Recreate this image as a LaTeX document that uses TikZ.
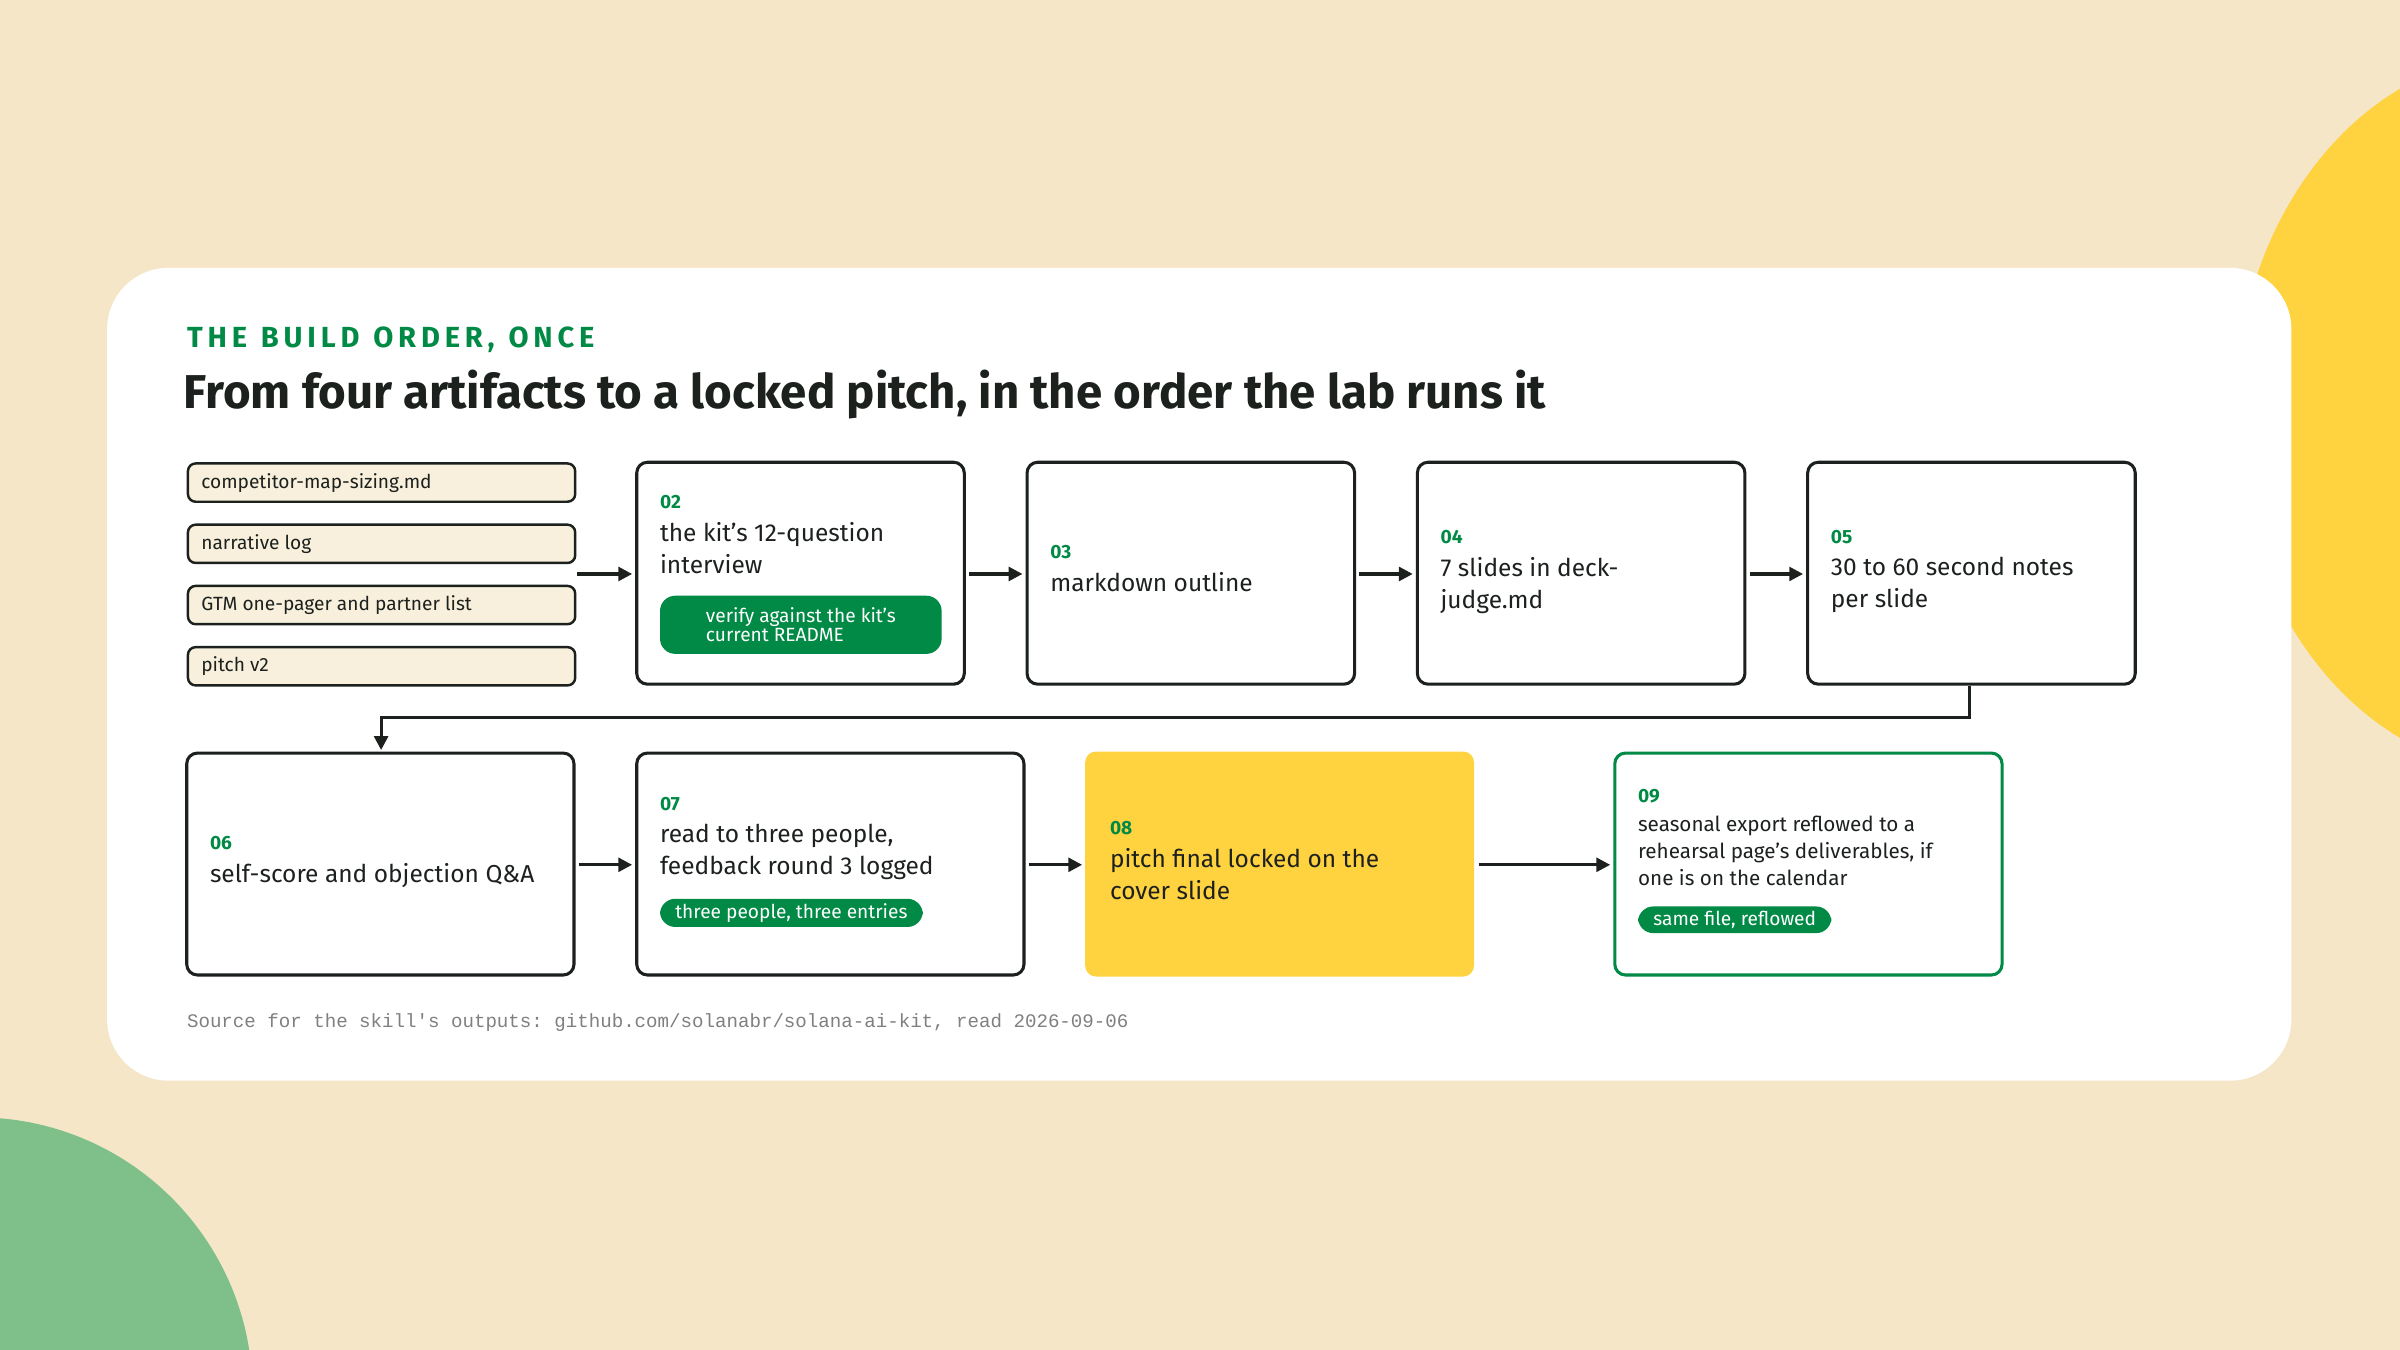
\documentclass[tikz,border=0pt]{standalone}
\usepackage{fontspec}
\setmainfont{Fira Sans}
\setmonofont{Liberation Mono}
\usetikzlibrary{arrows.meta,positioning}
\definecolor{paper}{HTML}{F5E6C8}
\definecolor{sun}{HTML}{FFD23F}
\definecolor{leaf}{HTML}{7FBF8A}
\definecolor{kitgreen}{HTML}{008A45}
\definecolor{ink}{HTML}{1C211E}
\definecolor{cream}{HTML}{F8F0DC}
\begin{document}
\begin{tikzpicture}[x=1pt, y=-1pt,
        stage/.style={draw=ink, line width=2pt, rounded corners=7pt, fill=white},
        artifact/.style={draw=ink, line width=1.6pt, rounded corners=5pt, fill=cream, minimum width=253pt, minimum height=25pt, anchor=north west},
        artlabel/.style={font=\fontsize{12.5}{14}\selectfont, text=ink, anchor=west},
        num/.style={font=\fontsize{12.5}{14}\selectfont\bfseries, text=kitgreen, anchor=west, inner sep=0pt},
        body/.style={font=\fontsize{16}{21}\selectfont, text=ink, anchor=north west, align=left, inner sep=0pt},
        pill/.style={fill=kitgreen, text=white, rounded corners=10pt, font=\fontsize{12.5}{14}\selectfont, align=left, anchor=north west, inner xsep=10pt, inner ysep=3pt},
        arrow/.style={-{Triangle[length=9pt,width=9pt]}, line width=2pt, draw=ink},
	]
		\useasboundingbox (0,0) rectangle (1568,882);
		\fill[paper] (0,0) rectangle (1568,882);
		\begin{scope}
			\clip (0,0) rectangle (1568,882);
			\fill[sun] (1650,270) ellipse (190 and 235);
			\fill[leaf] (-15,910) ellipse (180 and 180);
		\end{scope}
		\fill[white, rounded corners=40pt] (70,175) rectangle (1497,706);
		
		\node[anchor=west, inner sep=0pt, text=kitgreen, font=\fontsize{19}{22}\selectfont\bfseries] (kicker) at (122,222) {T\,H\,E\ \ B\,U\,I\,L\,D\ \ O\,R\,D\,E\,R\,,\ \ O\,N\,C\,E};
		\node[anchor=west, inner sep=0pt, text=ink, font=\fontsize{31}{36}\selectfont\bfseries] (title) at (120,258) {From four artifacts to a locked pitch, in the order the lab runs it};
		
		% inputs
		\node[artifact] (a1) at (122,302) {};
		\node[artifact] (a2) at (122,342) {};
		\node[artifact] (a3) at (122,382) {};
		\node[artifact] (a4) at (122,422) {};
		\node[artlabel] at ([xshift=6pt]a1.west) {competitor-map-sizing.md};
		\node[artlabel] at ([xshift=6pt]a2.west) {narrative log};
		\node[artlabel] at ([xshift=6pt]a3.west) {GTM one-pager and partner list};
		\node[artlabel] at ([xshift=6pt]a4.west) {pitch v2};
		\coordinate (inputs) at (377,375);
		
		% top row
		\draw[stage] (416,302) rectangle (630,447);
		\draw[stage] (671,302) rectangle (885,447);
		\draw[stage] (926,302) rectangle (1140,447);
		\draw[stage] (1181,302) rectangle (1395,447);
		\node[num] at (431,328) {02};
		\node[body] at (431,341) {the kit's 12-question\\interview};
		\node[pill, minimum width=184pt, minimum height=38pt] at (431,389) {verify against the kit's\\[-2pt]current README};
		\node[num] at (686,361) {03};
		\node[body] at (686,374) {markdown outline};
		\node[num] at (941,351) {04};
		\node[body] at (941,364) {7 slides in deck-\\judge.md};
		\node[num] at (1196,351) {05};
		\node[body] at (1196,364) {30 to 60 second notes\\per slide};
		
		% bottom row
		\draw[stage] (122,492) rectangle (375,637);
		\draw[stage] (416,492) rectangle (669,637);
		\fill[sun, rounded corners=7pt] (709,491) rectangle (963,638);
		\draw[stage, draw=kitgreen] (1055,492) rectangle (1308,637);
		\node[num] at (137,551) {06};
		\node[body] at (137,564) {self-score and objection Q\&A};
		\node[num] at (431,525) {07};
		\node[body] at (431,538) {read to three people,\\feedback round 3 logged};
		\node[pill] at (431,587) {three people, three entries};
		\node[num] at (725,541) {08};
		\node[body] at (725,554) {pitch final locked on the\\cover slide};
		\node[num] at (1070,520) {09};
		\node[body, font=\fontsize{13.5}{17.5}\selectfont] at (1070,533) {seasonal export reflowed to a\\rehearsal page's deliverables, if\\one is on the calendar};
		\node[pill] at (1070,592) {same file, reflowed};
		
		\node[anchor=west, inner sep=0pt, text=gray, font=\ttfamily\fontsize{12.5}{15}\selectfont] (source) at (122,668) {Source for the skill's outputs: github.com/solanabr/solana-ai-kit, read 2026-09-06};
		
		% connectors
		\draw[arrow] (inputs) -- (413,375);
		\draw[arrow] (633,375) -- (668,375);
		\draw[arrow] (888,375) -- (923,375);
		\draw[arrow] (1143,375) -- (1178,375);
		\draw[arrow] (1287,448) |- (249,469) -- (249,490);
		\draw[arrow] (378,565) -- (413,565);
		\draw[arrow] (672,565) -- (707,565);
		\draw[arrow] (966,565) -- (1052,565);
	\end{tikzpicture}
\end{document}
